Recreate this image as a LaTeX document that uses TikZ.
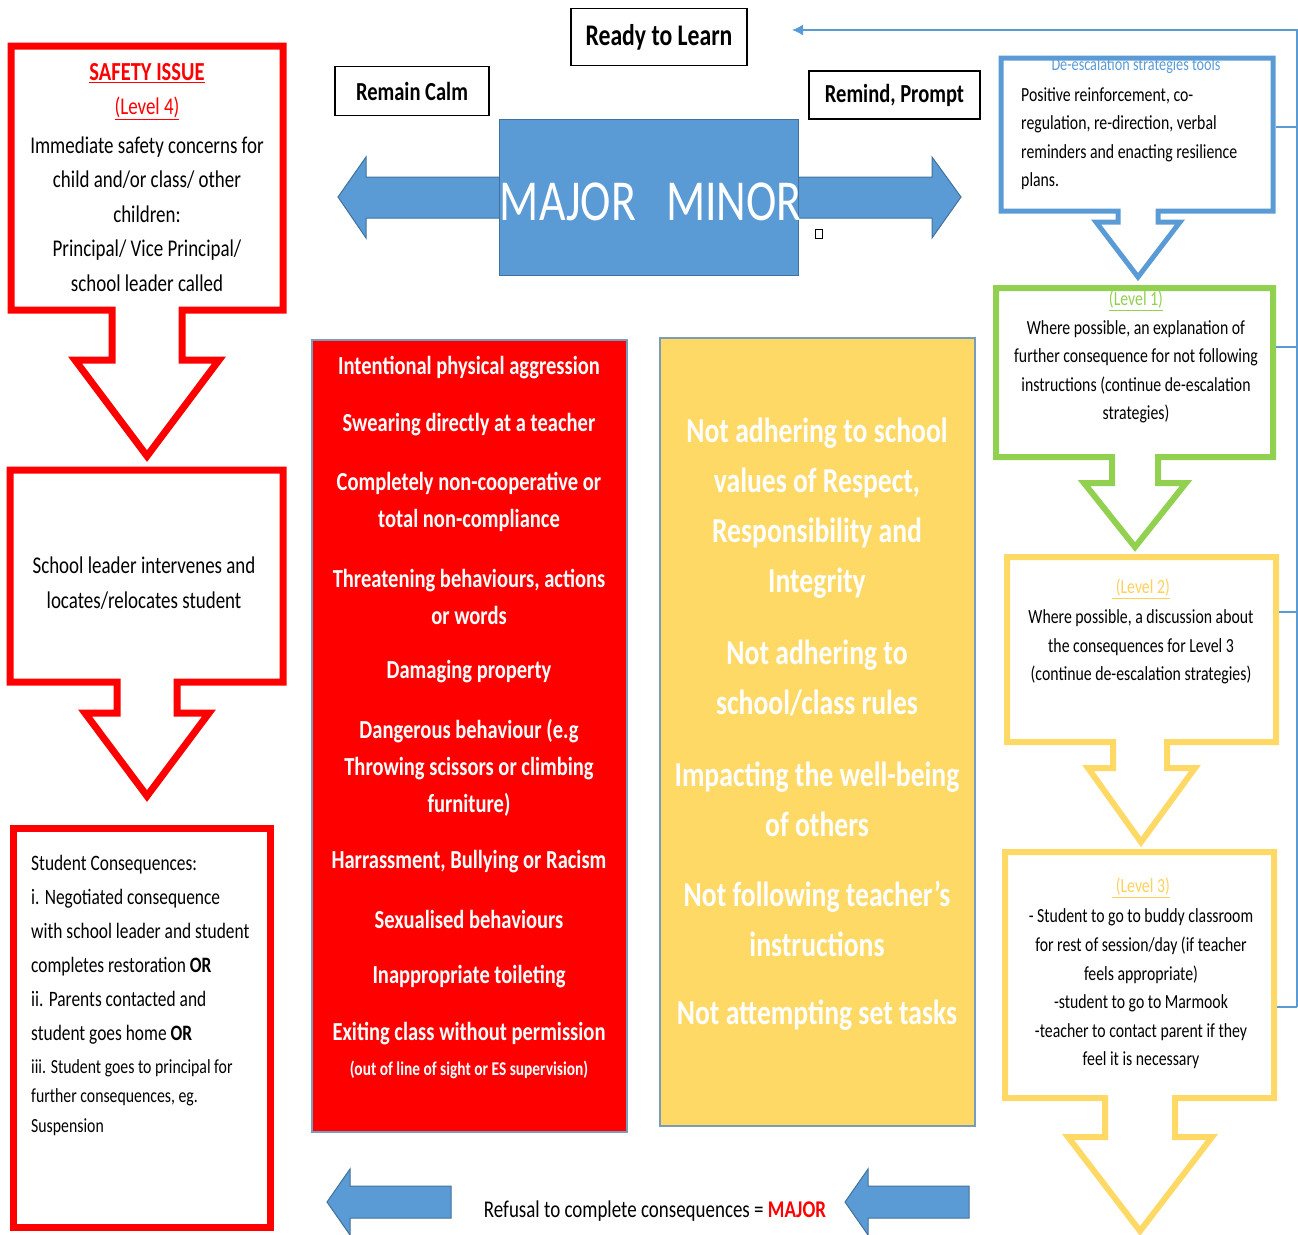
\documentclass[tikz,border=0pt]{standalone}
\usepackage{fontspec}
\setmainfont{Carlito}[FakeStretch=0.79]
\usetikzlibrary{arrows.meta}
\definecolor{bluefill}{HTML}{5B9BD5}
\definecolor{blueedge}{HTML}{41719C}
\definecolor{goldfill}{HTML}{FFD966}
\definecolor{greenline}{HTML}{92D050}
\definecolor{redfill}{HTML}{FF0000}
\newcommand\fs[2]{\fontsize{#1}{#2}\selectfont}

\begin{document}
\begin{tikzpicture}[x=1pt, y=-1pt,
    txt/.style={inner sep=0pt, align=center},
    label box/.style={draw, line width=1.3pt, inner sep=0pt, font=\bfseries\fs{26}{30}},
    redline/.style={draw=redfill, line width=7pt, line join=miter},
    blockarrow/.style={fill=bluefill, draw=blueedge, line width=1pt, line join=miter},
    listbox/.style={draw=blueedge!70, line width=1.5pt},
    fbline/.style={bluefill, line width=1.5pt}]
    \useasboundingbox (0,0) rectangle (1298,1234);

    % Pfeile links und rechts vom Block
    \draw[blockarrow] (500,177) -- (366,177) -- (366,157) -- (338,197) -- (366,238) -- (366,218) -- (500,218) -- cycle;
    \draw[blockarrow] (797,177) -- (932,177) -- (932,157) -- (961,197) -- (932,238) -- (932,218) -- (797,218) -- cycle;

    % Block MAJOR / MINOR
    \draw[fill=bluefill, draw=blueedge, line width=1pt] (499,119) rectangle (798,275);
    \node[txt, text=white, font=\fs{58}{60}] (major) at (568,202) {MAJOR};
    \node[txt, text=white, font=\fs{58}{60}] (minor) at (734,202) {MINOR};
    \draw[line width=1pt] (815,229) rectangle (822,238);

    % Kaesten oben
    \node[label box, minimum width=176pt, minimum height=57pt, font=\bfseries\fs{30}{34}] (ready) at (659,37) {Ready to Learn};
    \node[label box, minimum width=154pt, minimum height=49pt] (calm) at (412,91) {Remain Calm};
    \node[label box, minimum width=171pt, minimum height=48pt] (remind) at (894.5,95) {Remind, Prompt};

    % Linke Spalte (rot)
    \draw[redline] (11,46) -- (283,46) -- (283,310) -- (182,310) -- (182,360) -- (219,360) -- (147,456)
        -- (75,360) -- (112,360) -- (112,310) -- (11,310) -- cycle;
    \node[txt, text=redfill, font=\bfseries\fs{26}{30}] (safety) at (147,73) {\underline{SAFETY ISSUE}};
    \node[txt, text=redfill, font=\fs{24}{28}] (levelfour) at (147,108) {\underline{(Level 4)}};
    \node[txt, font=\fs{24}{34.5}] (safetytxt) at (147,214)
        {Immediate safety concerns for\\child and/or class/ other\\children:\\Principal/ Vice Principal/\\school leader called};

    \draw[redline] (10,470) -- (283,470) -- (283,682) -- (177,682) -- (177,713) -- (209,713) -- (147,796)
        -- (85,713) -- (117,713) -- (117,682) -- (10,682) -- cycle;
    \node[txt, font=\fs{24}{35}] (leader) at (144,583) {School leader intervenes and\\locates/relocates student};

    \draw[redline] (13,828) rectangle (270,1227);
    \node[txt, align=left, anchor=north west, font=\fs{22}{34}] (conseq) at (31,855)
        {Student Consequences:\\i. Negotiated consequence\\with school leader and student\\completes restoration \textbf{OR}\\ii. Parents contacted and\\student goes home \textbf{OR}};
    \node[txt, align=left, anchor=north west, font=\fs{20}{29.5}] (conseqmore) at (31,1059)
        {iii. Student goes to principal for\\further consequences, eg.\\Suspension};

    % MAJOR Liste
    \draw[listbox, fill=redfill] (312,340) rectangle (627,1132);
    \node[txt, text=white, font=\bfseries\fs{26}{37}] (aggr) at (469,368) {Intentional physical aggression};
    \node[txt, text=white, font=\bfseries\fs{26}{37}] (swear) at (469,425) {Swearing directly at a teacher};
    \node[txt, text=white, font=\bfseries\fs{26}{37}] (noncoop) at (469,502) {Completely non-cooperative or\\total non-compliance};
    \node[txt, text=white, font=\bfseries\fs{26}{37}] (threat) at (469,597) {Threatening behaviours, actions\\or words};
    \node[txt, text=white, font=\bfseries\fs{26}{37}] (damage) at (469,672) {Damaging property};
    \node[txt, text=white, font=\bfseries\fs{26}{37}] (danger) at (469,768) {Dangerous behaviour (e.g\\Throwing scissors or climbing\\furniture)};
    \node[txt, text=white, font=\bfseries\fs{26}{37}] (harass) at (469,862) {Harrassment, Bullying or Racism};
    \node[txt, text=white, font=\bfseries\fs{26}{37}] (sexual) at (469,919) {Sexualised behaviours};
    \node[txt, text=white, font=\bfseries\fs{26}{37}] (toilet) at (469,977) {Inappropriate toileting};
    \node[txt, text=white, font=\bfseries\fs{26}{37}] (exiting) at (469,1034) {Exiting class without permission};
    \node[txt, text=white, font=\bfseries\fs{19.5}{22}] (sight) at (469,1070) {(out of line of sight or ES supervision)};

    % MINOR Liste
    \draw[listbox, fill=goldfill] (660,338) rectangle (975,1126);
    \node[txt, text=white, font=\bfseries\fs{35}{50}] (values) at (817,508) {Not adhering to school\\values of Respect,\\Responsibility and\\Integrity};
    \node[txt, text=white, font=\bfseries\fs{35}{50}] (rules) at (817,678) {Not adhering to\\school/class rules};
    \node[txt, text=white, font=\bfseries\fs{35}{50}] (wellbeing) at (817,799) {Impacting the well-being\\of others};
    \node[txt, text=white, font=\bfseries\fs{35}{50}] (instruct) at (817,919) {Not following teacher’s\\instructions};
    \node[txt, text=white, font=\bfseries\fs{35}{50}] (tasks) at (817,1015) {Not attempting set tasks};

    % Rechte Spalte
    \draw[draw=bluefill, line width=5pt, line join=miter] (1001,58) -- (1273,58) -- (1273,211) -- (1158,211) -- (1158,222)
        -- (1180,222) -- (1138,277) -- (1096,222) -- (1118,222) -- (1118,211) -- (1001,211) -- cycle;
    \node[txt, text=bluefill, font=\fs{18}{20}] (tools) at (1136,66) {De-escalation strategies tools};
    \node[txt, align=left, anchor=north west, font=\fs{20}{28.5}] (tooltxt) at (1021,87)
        {Positive reinforcement, co-\\regulation, re-direction, verbal\\reminders and enacting resilience\\plans.};

    \draw[draw=greenline, line width=6pt, line join=miter] (996,288) -- (1273,288) -- (1273,457) -- (1158,457) -- (1158,483)
        -- (1186,483) -- (1135,547) -- (1084,483) -- (1112,483) -- (1112,457) -- (996,457) -- cycle;
    \node[txt, text=greenline, font=\fs{20}{24}] (levelone) at (1136,301) {\underline{(Level 1)}};
    \node[txt, font=\fs{20}{28.5}] (onetxt) at (1136,372)
        {Where possible, an explanation of\\further consequence for not following\\instructions (continue de-escalation\\strategies)};

    \draw[draw=goldfill, line width=6pt, line join=miter] (1007,557) -- (1276,557) -- (1276,742) -- (1167,742) -- (1167,768)
        -- (1195,768) -- (1141,842) -- (1088,768) -- (1113,768) -- (1113,742) -- (1007,742) -- cycle;
    \node[txt, text=goldfill!90!orange, font=\fs{20}{24}] (leveltwo) at (1141,589) {\underline{\ (Level 2)}};
    \node[txt, font=\fs{20}{28.5}] (twotxt) at (1141,647)
        {Where possible, a discussion about\\the consequences for Level 3\\(continue de-escalation strategies)};

    \draw[draw=goldfill, line width=6pt, line join=miter] (1005,852) -- (1274,852) -- (1274,1098) -- (1175,1098) -- (1175,1137)
        -- (1212,1137) -- (1140,1231) -- (1068,1137) -- (1105,1137) -- (1105,1098) -- (1005,1098) -- cycle;
    \node[txt, text=goldfill!90!orange, font=\fs{20}{24}] (levelthree) at (1141,888) {\underline{\ (Level 3)}};
    \node[txt, font=\fs{20}{28.6}] (threetxt) at (1141,989)
        {- Student to go to buddy classroom\\for rest of session/day (if teacher\\feels appropriate)\\-student to go to Marmook\\-teacher to contact parent if they\\feel it is necessary};

    % Rueckweg zu Ready to Learn
    \coordinate (fbtop) at (1297,30);
    \coordinate (fbbot) at (1297,1007);
    \coordinate (fbend) at (792,30);
    \draw[fbline, -{Latex[length=11pt,width=11pt]}] (fbbot) -- (fbtop) -- (fbend);
    \draw[fbline] (1276,127) -- (1297,127);
    \draw[fbline] (1276,347) -- (1297,347);
    \draw[fbline] (1279,612) -- (1297,612);
    \draw[fbline] (1277,1007) -- (fbbot);

    % Pfeile unten
    \draw[blockarrow] (451,1186) -- (350,1186) -- (350,1169) -- (327,1202) -- (350,1235) -- (350,1218) -- (451,1218) -- cycle;
    \draw[blockarrow] (969,1186) -- (868,1186) -- (868,1169) -- (845,1202) -- (868,1235) -- (868,1218) -- (969,1218) -- cycle;
    \node[txt, font=\fs{24}{26}] (refusal) at (655,1211) {Refusal to complete consequences = \textcolor{redfill}{\textbf{MAJOR}}};
\end{tikzpicture}
\end{document}
